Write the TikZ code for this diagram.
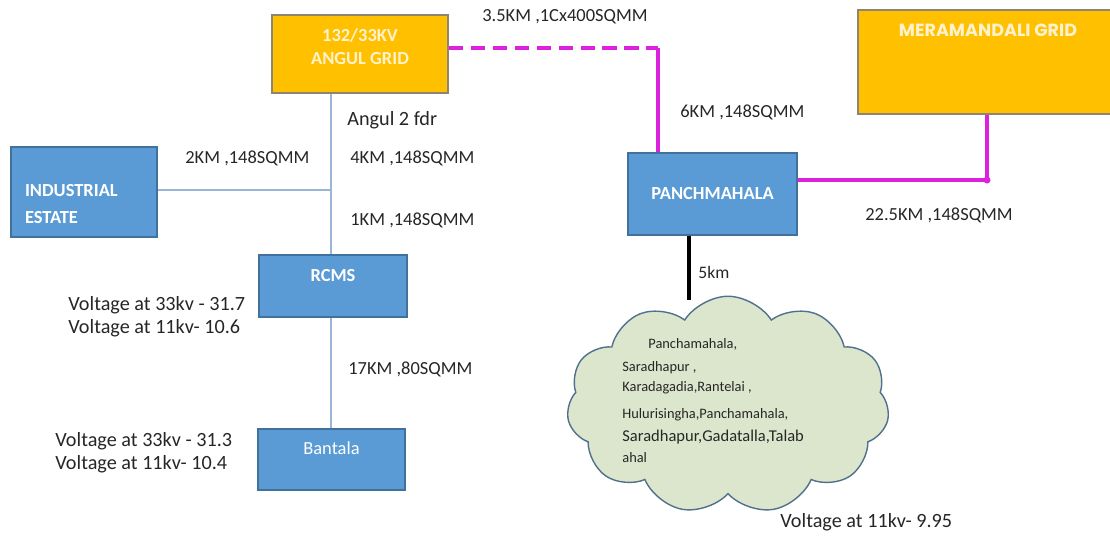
\documentclass[tikz,border=0pt]{standalone}
\usepackage{fontspec}
\setmainfont{Carlito}
\newfontfamily\gridfont{Poppins}
\usetikzlibrary{shapes.symbols,positioning}
\definecolor{gridfill}{HTML}{FFC000}
\definecolor{gridedge}{HTML}{8E8570}
\definecolor{gridtext}{HTML}{FFF2CC}
\definecolor{subfill}{HTML}{5B9BD5}
\definecolor{subedge}{HTML}{41719C}
\definecolor{feedline}{HTML}{9AB6D6}
\definecolor{linkmag}{HTML}{DD22DD}
\definecolor{cloudfill}{HTML}{DCE6CD}
\definecolor{cloudedge}{HTML}{50708E}
\definecolor{labtext}{HTML}{262626}
\tikzset{
  grid/.style={draw=gridedge, fill=gridfill, line width=0.8pt, inner sep=0pt, text=gridtext},
  sub/.style={draw=subedge, fill=subfill, line width=0.8pt, inner sep=0pt, text=white,
    font=\fontsize{10.5}{15}\selectfont\bfseries},
  feeder/.style={line width=1.6pt, draw=feedline},
  link/.style={line width=2pt, draw=linkmag},
  drop/.style={line width=2.2pt, draw=black},
  cab/.style={text=labtext, font=\fontsize{10.5}{12}\selectfont, inner sep=0pt, anchor=west},
  volt/.style={text=labtext, font=\fontsize{11.5}{13}\selectfont, inner sep=0pt, anchor=west, align=left},
}

\begin{document}
\begin{tikzpicture}[x=0.2mm, y=-0.2mm]
  \useasboundingbox (0,0) rectangle (1110,539);

  % grids
  \node[grid, minimum width=35.2mm, minimum height=15.6mm, align=center, text height=13pt, text depth=1pt,
    font=\fontsize{10.5}{13}\selectfont\bfseries] (angul) at (360,54) {132/33KV\\ANGUL GRID};
  \node[grid, minimum width=52mm, minimum height=20.8mm, text height=7pt, text depth=36pt,
    font=\gridfont\fontsize{10}{12}\selectfont\bfseries] (meram) at (988,62) {MERAMANDALI GRID};

  % substations
  \node[sub, minimum width=29.2mm, minimum height=18mm, text width=23.6mm, align=left,
    text height=7pt, text depth=1.4pt] (indus) at (84,192) {INDUSTRIAL\\ESTATE};
  \node[sub, minimum width=29.6mm, minimum height=12.4mm, text height=7pt, text depth=12.6pt] (rcms) at (333,286) {RCMS};
  \node[sub, minimum width=29.4mm, minimum height=12.2mm, text height=7pt, text depth=13pt, font=\fontsize{10.5}{12}\selectfont] (bant) at (331.5,459.5) {Bantala};
  \node[sub, minimum width=33.8mm, minimum height=16.4mm] (panch) at (712.5,194) {PANCHMAHALA};

  % villages fed at 11kv
  \node[cloud, cloud puffs=11, cloud puff arc=115, aspect=1.5, draw=cloudedge, fill=cloudfill, line width=0.8pt,
    minimum width=64.5mm, minimum height=43.5mm, inner sep=0pt] (villages) at (728,405) {};
  \node[text=labtext, anchor=north west, align=left, inner sep=0pt,
    font=\fontsize{8.2}{11.6}\selectfont] (vlist) at (622,338)
    {\hspace*{5.2mm}Panchamahala,\\[1.6pt]
     Saradhapur ,\\
     Karadagadia,Rantelai ,\\[3.6pt]
     Hulurisingha,Panchamahala,\\[1.4pt]
     {\fontsize{9.4}{11}\selectfont Saradhapur,Gadatalla,Talab}\\[0.4pt]
     ahal};

  \coordinate (tee) at (331,190);    % industrial estate tap
  \coordinate (bend) at (658,48);    % corner of angul link
  \coordinate (mjoin) at (987,180);  % meramandali tap
  \coordinate (tap) at (689,300);    % cloud top

  % feeders
  \draw[feeder] (tee |- angul.south) -- (tee |- rcms.north);
  \draw[feeder] (indus.east |- tee) -- (tee);
  \draw[feeder] (tee |- rcms.south) -- (tee |- bant.north);

  \draw[link, dash pattern=on 8pt off 4.5pt] (angul.east |- bend) -- (bend);
  \draw[link] (bend) -- (bend |- panch.north);
  \draw[link] (panch.east |- mjoin) -- (mjoin) -- (mjoin |- meram.south);
  \fill[linkmag] (mjoin) circle (2pt);

  \draw[drop] (tap |- panch.south) -- (tap);

  % cable data
  \node[cab] (c1) at (482,17) {3.5KM ,1Cx400SQMM};
  \node[cab] (c2) at (680,112) {6KM ,148SQMM};
  \node[cab] (c3) at (350,158) {4KM ,148SQMM};
  \node[cab] (c4) at (185,158) {2KM ,148SQMM};
  \node[cab] (c5) at (350,220) {1KM ,148SQMM};
  \node[cab] (c6) at (348,369) {17KM ,80SQMM};
  \node[cab] (c7) at (865,215) {22.5KM ,148SQMM};
  \node[cab, font=\fontsize{10}{12}\selectfont] (c8) at (698,272) {5km};
  \node[volt] (fdr) at (347,120) {Angul 2 fdr};

  % voltages
  \node[volt] (v1) at (68,316.5) {Voltage at 33kv - 31.7\\Voltage at 11kv- 10.6};
  \node[volt] (v2) at (55,453) {Voltage at 33kv - 31.3\\Voltage at 11kv- 10.4};
  \node[volt] (v3) at (780,522) {Voltage at 11kv- 9.95};
\end{tikzpicture}
\end{document}
